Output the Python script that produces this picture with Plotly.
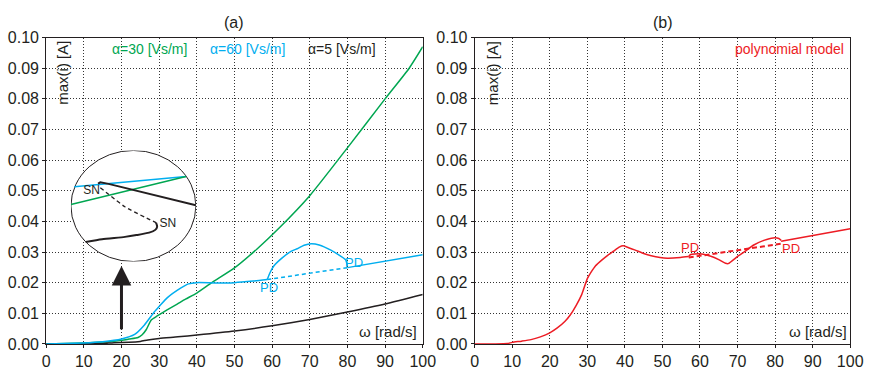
import plotly.graph_objects as go

# ---------------- data ----------------
omega_ticks = [0, 10, 20, 30, 40, 50, 60, 70, 80, 90, 100]
i_ticks = [0.00, 0.01, 0.02, 0.03, 0.04, 0.05, 0.06, 0.07, 0.08, 0.09, 0.10]
i_tick_labels = ["0.00", "0.01", "0.02", "0.03", "0.04", "0.05", "0.06", "0.07", "0.08", "0.09", "0.10"]

# (a) alpha = 30 Vs/m (green)
omega_a30 = [0, 5, 10, 15, 17.4, 20, 22, 24.4, 25.5, 26.6, 27.9, 29.6, 32, 34.8, 37, 40,
             44, 50, 56, 62, 70, 80, 90, 96.4, 100]
i_a30 = [0, 0.0001, 0.0003, 0.0006, 0.0008, 0.0012, 0.0016, 0.0021, 0.0030, 0.0047, 0.0078,
         0.0092, 0.0110, 0.0130, 0.0146, 0.0166, 0.0200, 0.0248, 0.0310, 0.0380, 0.0484,
         0.0640, 0.0800, 0.0900, 0.0970]

# (a) alpha = 60 Vs/m (blue) stable branch up to the first PD
omega_a60 = [0, 5, 10, 15, 20, 23.5, 26.1, 28.7, 30, 32.2, 35.7, 37.8, 40, 45, 50, 55, 58.7]
i_a60 = [0, 0.0001, 0.0003, 0.0007, 0.0016, 0.0031, 0.0062, 0.0104, 0.0122, 0.0151, 0.0182,
         0.0196, 0.0200, 0.0199, 0.0200, 0.0205, 0.0210]
# period-doubled branch
omega_a60_pd = [58.7, 59.5, 60.5, 62.6, 65, 66.9, 68.5, 70.4, 72.5, 75.6, 78, 79.5, 80]
i_a60_pd = [0.0210, 0.0234, 0.0255, 0.0280, 0.0302, 0.0312, 0.0322, 0.0327, 0.0323, 0.0306,
            0.0288, 0.0275, 0.0255]
# unstable branch (dashed)
omega_a60_unst = [58.7, 80]
i_a60_unst = [0.0210, 0.0249]
# stable again
omega_a60_tail = [80, 100]
i_a60_tail = [0.0249, 0.0291]

# (a) alpha = 5 Vs/m (black)
omega_a5 = [0, 10, 15, 18, 22, 25, 27, 30, 35, 40, 50, 60, 70, 80, 90, 100]
i_a5 = [0, 0, 0.0001, 0.0004, 0.0005, 0.0008, 0.0013, 0.0018, 0.0023,
        0.0029, 0.0042, 0.0059, 0.0080, 0.0104, 0.0130, 0.0161]

# inset (magnified view, local 0..1 coordinates)
inset_blue_u = [0.027, 0.921]
inset_blue_v = [0.674, 0.765]
inset_green_u = [0.0, 0.921]
inset_green_v = [0.513, 0.765]
inset_upper_u = [0.217, 0.235, 0.301, 1.0]
inset_upper_v = [0.702, 0.713, 0.699, 0.507]
inset_dash_u = [0.235, 0.432, 0.681]
inset_dash_v = [0.665, 0.493, 0.350]
inset_lower_u = [0.681, 0.690, 0.675, 0.626, 0.524, 0.432, 0.249, 0.118]
inset_lower_v = [0.350, 0.315, 0.285, 0.260, 0.238, 0.222, 0.200, 0.176]
inset_sn_u = [0.165, 0.775]
inset_sn_v = [0.636, 0.341]

# (b) polynomial model (red)
omega_poly = [0, 5, 8.7, 10, 12.5, 15, 17.5, 20, 22, 24, 25.5, 27, 28.5, 30, 31, 32.2, 34, 35.5,
              37, 38.5, 39.5, 41, 42.6, 45, 47, 51.3, 54.8, 57]
i_poly = [0, 0, 0.0001, 0.0005, 0.0009, 0.0014, 0.0023, 0.0036, 0.0052, 0.0073, 0.0095, 0.0125,
          0.0161, 0.0213, 0.0234, 0.0255, 0.0275, 0.0290, 0.0303, 0.0316, 0.0320, 0.0314,
          0.0307, 0.0295, 0.0288, 0.0280, 0.0282, 0.0285]
omega_poly_pd = [57, 57.4, 60, 62.9, 65, 66.8, 67.5, 70.3, 72, 74.2, 77, 79.5, 81, 81.6]
i_poly_pd = [0.0285, 0.0291, 0.0294, 0.0286, 0.0275, 0.0263, 0.0262, 0.0288, 0.0302, 0.0322,
             0.0338, 0.0346, 0.0344, 0.0338]
omega_poly_unst = [57, 81.6]
i_poly_unst = [0.0282, 0.0327]
omega_poly_tail = [81.6, 100]
i_poly_tail = [0.0335, 0.0376]

# ---------------- styling ----------------
GREEN = "#00a651"
BLUE = "#00aeef"
BLACK = "#231f20"
RED = "#ed1c24"
FONT = "Arial, Liberation Sans, Helvetica, sans-serif"

fig = go.Figure()

def add(x, y, color, width=1.5, dash="solid", xa="x", ya="y", shape="spline"):
    line = dict(color=color, width=width, dash=dash, shape=shape)
    if shape == "spline":
        line["smoothing"] = 0.6
    fig.add_trace(go.Scatter(x=x, y=y, mode="lines", xaxis=xa, yaxis=ya, line=line,
                             hoverinfo="skip", showlegend=False))

# panel (a)
add(omega_a30, i_a30, GREEN)
add(omega_a5, i_a5, BLACK)
add(omega_a60, i_a60, BLUE)
add(omega_a60_pd, i_a60_pd, BLUE)
add(omega_a60_unst, i_a60_unst, BLUE, dash="4px,3px")
add(omega_a60_tail, i_a60_tail, BLUE)

# inset
add(inset_blue_u, inset_blue_v, BLUE, 1.5, xa="x3", ya="y3", shape="linear")
add(inset_green_u, inset_green_v, GREEN, 1.5, xa="x3", ya="y3", shape="linear")
add(inset_upper_u, inset_upper_v, BLACK, 2, xa="x3", ya="y3", shape="linear")
add(inset_dash_u, inset_dash_v, BLACK, 1.3, dash="4px,3px", xa="x3", ya="y3")
add(inset_lower_u, inset_lower_v, BLACK, 2, xa="x3", ya="y3")
fig.add_trace(go.Scatter(x=inset_sn_u, y=inset_sn_v, mode="text", text=["SN", "SN"],
                         textfont=dict(family=FONT, size=12, color=BLACK),
                         xaxis="x3", yaxis="y3", hoverinfo="skip", showlegend=False))

# panel (b)
add(omega_poly, i_poly, RED, xa="x2", ya="y2")
add(omega_poly_pd, i_poly_pd, RED, xa="x2", ya="y2")
add(omega_poly_unst, i_poly_unst, RED, width=2, dash="5px,3px", xa="x2", ya="y2")
add(omega_poly_tail, i_poly_tail, RED, xa="x2", ya="y2")

ydom = [0.0538, 0.9167]
axis_common = dict(showline=True, linecolor=BLACK, linewidth=1, mirror=True,
                   showgrid=True, gridcolor="#333333", griddash="1px,2px", gridwidth=1,
                   ticks="outside", ticklen=3, tickcolor=BLACK, zeroline=False,
                   tickfont=dict(family=FONT, size=16, color=BLACK))

fig.update_layout(
    width=874, height=372, margin=dict(l=0, r=0, t=0, b=0),
    paper_bgcolor="white", plot_bgcolor="rgba(0,0,0,0)",
    xaxis=dict(domain=[0.0492, 0.4886], range=[0, 100], tickvals=omega_ticks, anchor="y",
               **axis_common),
    yaxis=dict(domain=ydom, range=[0, 0.1], tickvals=i_ticks, ticktext=i_tick_labels,
               anchor="x", **axis_common),
    xaxis2=dict(domain=[0.5492, 0.9874], range=[0, 100], tickvals=omega_ticks, anchor="y2",
                **axis_common),
    yaxis2=dict(domain=ydom, range=[0, 0.1], tickvals=i_ticks, ticktext=i_tick_labels,
                anchor="x2", **axis_common),
    xaxis3=dict(domain=[0.0781, 0.2239], range=[0, 1], visible=False, anchor="y3"),
    yaxis3=dict(domain=[0.2858, 0.5987], range=[0, 1], visible=False, anchor="x3"),
)

# inset circle
fig.add_shape(type="circle", xref="x3", yref="y3", x0=0, x1=1, y0=0, y1=1,
              line=dict(color=BLACK, width=1), fillcolor="white", layer="below")

def txt(text, x, y, xref, yref, color=BLACK, size=13, xanchor="center", yanchor="middle",
        angle=0):
    fig.add_annotation(text=text, x=x, y=y, xref=xref, yref=yref, showarrow=False,
                       font=dict(family=FONT, size=size, color=color), xanchor=xanchor,
                       yanchor=yanchor, textangle=angle)

# titles
txt("(a)", 235 / 874, 1 - 15 / 372, "paper", "paper", size=16)
txt("(b)", 672 / 874, 1 - 15 / 372, "paper", "paper", size=16)
# y-axis titles (inside plot)
txt("max(i) [A]", 60 / 874, 1 - 68 / 372, "paper", "paper", size=15, angle=-90)
txt("max(i) [A]", 499 / 874, 1 - 68 / 372, "paper", "paper", size=15, angle=-90)
# x-axis titles
txt("ω [rad/s]", 423 / 874, 1 - 339 / 372, "paper", "paper", size=15, xanchor="right")
txt("ω [rad/s]", 862 / 874, 1 - 339 / 372, "paper", "paper", size=15, xanchor="right")
# series labels
txt("α=30 [Vs/m]", 17.0, 0.0963, "x", "y", GREEN, 14, xanchor="left")
txt("α=60 [Vs/m]", 43.0, 0.0963, "x", "y", BLUE, 14, xanchor="left")
txt("α=5 [Vs/m]", 69.0, 0.0963, "x", "y", BLACK, 14, xanchor="left")
txt("polynomial model", 99.0, 0.0963, "x2", "y2", RED, 14, xanchor="right")
# PD labels
txt("PD", 59.1, 0.0184, "x", "y", BLUE, 13)
txt("PD", 81.8, 0.0265, "x", "y", BLUE, 13)
txt("PD", 57.4, 0.0314, "x2", "y2", RED, 13)
txt("PD", 84.2, 0.0312, "x2", "y2", RED, 13)

# arrow pointing at inset
fig.add_annotation(x=20, y=0.0254, ax=20, ay=0.0043, xref="x", yref="y", axref="x", ayref="y",
                   showarrow=True, arrowhead=2, arrowsize=1.3, arrowwidth=3,
                   arrowcolor=BLACK, text="")

fig.write_html("out.html")
